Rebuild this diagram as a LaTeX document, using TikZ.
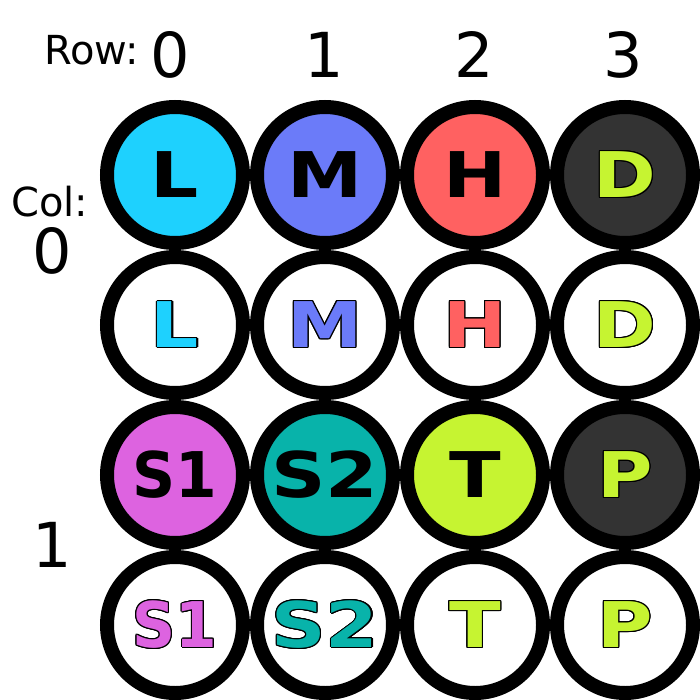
\documentclass[tikz,border=0pt]{standalone}
\usepackage{fontspec}
\setmainfont{DejaVu Sans}
\newfontfamily\bfnt{DejaVu Sans Bold}
\usepackage{graphicx}
\usepackage{contour}
\contourlength{1pt}
\definecolor{cL}{HTML}{1ED1FE}
\definecolor{cM}{HTML}{6B7BF9}
\definecolor{cH}{HTML}{FF6161}
\definecolor{cDk}{HTML}{333333}
\definecolor{cLime}{HTML}{C6F431}
\definecolor{cSa}{HTML}{DD63E0}
\definecolor{cSb}{HTML}{08B3AA}
\newcommand\blk[2][1.2]{\scalebox{#1}[1]{\bfnt\fontsize{63}{63}\selectfont #2}}
\newcommand\olt[3][1.2]{\scalebox{#1}[1]{\bfnt\fontsize{63}{63}\selectfont\textcolor{#2}{\contour{black}{#3}}}}
\tikzset{
  ring/.style={circle, draw=black, line width=14pt, minimum size=136pt, inner sep=0pt, fill=white},
  lab/.style={inner sep=0pt, anchor=base west, font=\fontsize{40}{48}\selectfont},
  num/.style={inner sep=0pt, anchor=base, font=\fontsize{62}{70}\selectfont}
}
\begin{document}
\begin{tikzpicture}[x=1pt,y=-1pt]
\useasboundingbox (0,0) rectangle (700,700);
\node[lab] (rowlab) at (44,65) {Row:};
\node[num] (r0) at (170,78) {0};
\node[num] (r1) at (324,78) {1};
\node[num] (r2) at (474,78) {2};
\node[num] (r3) at (623,78) {3};
\node[lab] (collab) at (11,217) {Col:};
\node[num] (k0) at (52,273) {0};
\node[num] (k1) at (52,567) {1};
% row 1
\node[ring, fill=cL] (a1) at (175,175) {\blk{L}};
\node[ring, fill=cM] (a2) at (325,175) {\blk{M}};
\node[ring, fill=cH] (a3) at (475,175) {\blk{H}};
\node[ring, fill=cDk] (a4) at (625,175) {\olt{cLime}{D}};
% row 2
\node[ring] (b1) at (175,325) {\olt{cL}{L}};
\node[ring] (b2) at (325,325) {\olt{cM}{M}};
\node[ring] (b3) at (475,325) {\olt{cH}{H}};
\node[ring] (b4) at (625,325) {\olt{cLime}{D}};
% row 3
\node[ring, fill=cSa] (c1) at (175,475) {\blk[0.95]{S1}};
\node[ring, fill=cSb] (c2) at (325,475) {\blk{S2}};
\node[ring, fill=cLime] (c3) at (475,475) {\blk{T}};
\node[ring, fill=cDk] (c4) at (625,475) {\olt{cLime}{P}};
% row 4
\node[ring] (d1) at (175,625) {\olt[0.95]{cSa}{S1}};
\node[ring] (d2) at (325,625) {\olt{cSb}{S2}};
\node[ring] (d3) at (475,625) {\olt{cLime}{T}};
\node[ring] (d4) at (625,625) {\olt{cLime}{P}};
\end{tikzpicture}
\end{document}
